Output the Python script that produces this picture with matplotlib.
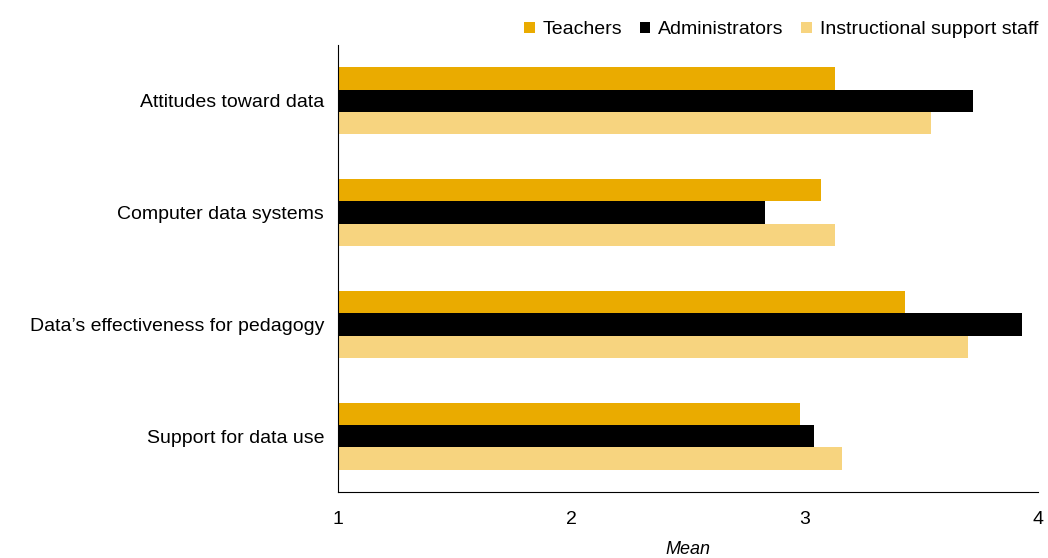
import numpy as np
import matplotlib.pyplot as plt

plt.rcParams['font.family'] = ['Liberation Sans', 'DejaVu Sans']

categories = ['Attitudes toward data', 'Computer data systems',
              'Data\u2019s effectiveness for pedagogy', 'Support for data use']
teachers = [3.13, 3.07, 3.43, 2.98]
administrators = [3.72, 2.83, 3.93, 3.04]
support_staff = [3.54, 3.13, 3.70, 3.16]
series_names = ['Teachers', 'Administrators', 'Instructional support staff']
colors = ['#EAAB00', '#000000', '#F7D47F']

fig = plt.figure(figsize=(10.48, 5.58), dpi=100)
ax = fig.add_axes([338 / 1048, 1 - 492 / 558, 700 / 1048, 447 / 558])

y = np.arange(len(categories))
h = 0.2
for i, (vals, name, c) in enumerate(zip([teachers, administrators, support_staff], series_names, colors)):
    ax.barh(y + (i - 1) * h, np.array(vals) - 1, left=1, height=h, color=c, label=name)

ax.set_xlim(1, 4)
ax.set_ylim(3.5, -0.5)
ax.set_yticks(y)
ax.set_yticklabels(categories, fontsize=14)
ax.set_xticks([1, 2, 3, 4])
ax.tick_params(axis='both', length=0)
ax.tick_params(axis='x', labelsize=14, pad=14)
ax.tick_params(axis='y', pad=10)
ax.set_xlabel('Mean', fontsize=13, style='italic', labelpad=9)
for s in ['top', 'right']:
    ax.spines[s].set_visible(False)

ax.legend(loc='upper right', bbox_to_anchor=(1.0, 1.053), ncol=3, frameon=False,
          fontsize=14, handlelength=0.55, handleheight=0.55, handletextpad=0.4,
          columnspacing=0.9, borderaxespad=0, borderpad=0)

fig.savefig('out.png', dpi=100)
